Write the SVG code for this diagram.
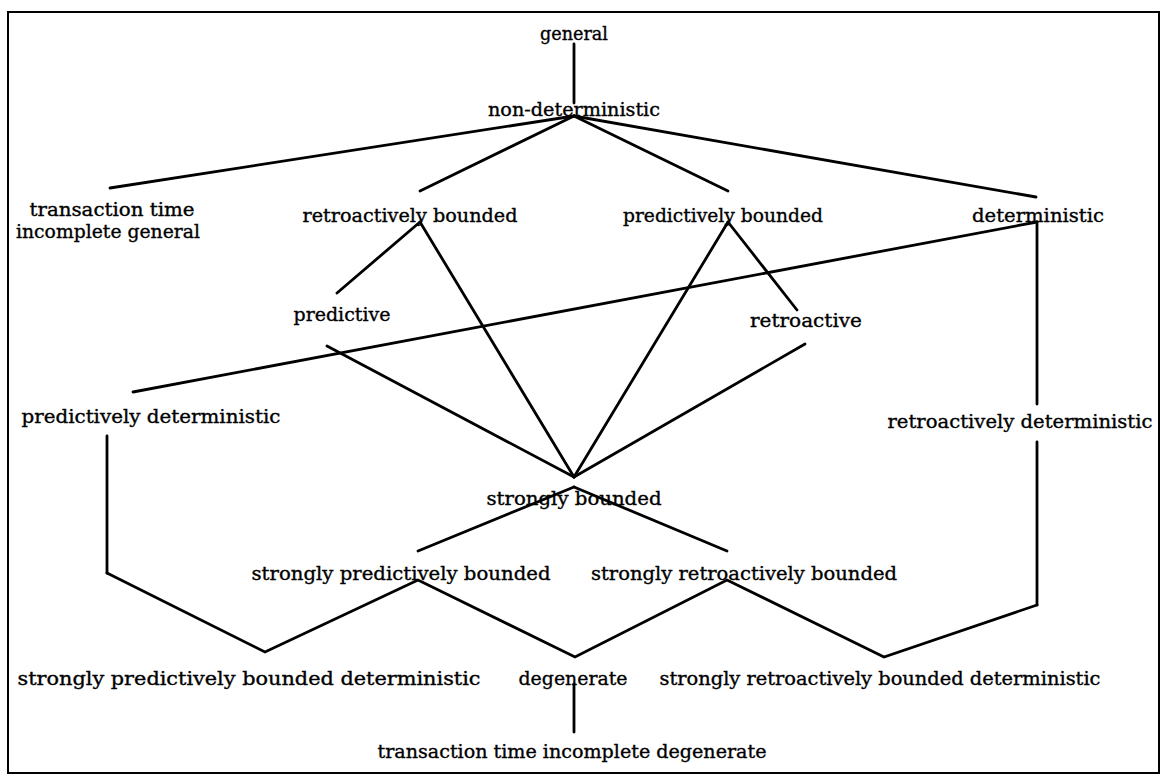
<svg xmlns="http://www.w3.org/2000/svg" width="1168" height="784" viewBox="0 0 1168 784">
<style>
text{font-family:"DejaVu Serif","Liberation Serif",serif;font-size:19px;fill:#000;stroke:#000;stroke-width:0.35;text-anchor:middle}
.e{stroke:#000;stroke-width:2.8;fill:none;stroke-linecap:round}
</style>
<rect x="0" y="0" width="1168" height="784" fill="#fff"/>
<rect x="8" y="12" width="1151" height="761" fill="none" stroke="#000" stroke-width="2"/>
<g id="connectors" class="e">
<line x1="574" y1="44" x2="574" y2="103"/>
<line x1="574" y1="116" x2="110" y2="188"/>
<line x1="574" y1="116" x2="420" y2="191"/>
<line x1="574" y1="116" x2="728" y2="191"/>
<line x1="574" y1="116" x2="1036" y2="197"/>
<line x1="420" y1="222" x2="337" y2="293"/>
<line x1="420" y1="222" x2="574" y2="477"/>
<line x1="728" y1="222" x2="797" y2="310"/>
<line x1="728" y1="222" x2="574" y2="477"/>
<line x1="1037" y1="222" x2="133" y2="392"/>
<line x1="1037" y1="222" x2="1037" y2="404"/>
<line x1="327" y1="346" x2="574" y2="477"/>
<line x1="805" y1="344" x2="574" y2="477"/>
<line x1="107" y1="436" x2="107" y2="573"/>
<line x1="1037" y1="442" x2="1037" y2="605"/>
<line x1="574" y1="487" x2="418" y2="551"/>
<line x1="574" y1="487" x2="727" y2="551"/>
<polyline points="107,573 265,652 418,580 575,657 727,580 884,657 1037,605"/>
<line x1="574" y1="684" x2="574" y2="732"/>
</g>
<g id="n-general"><text x="574" y="40" textLength="68" lengthAdjust="spacingAndGlyphs">general</text></g>
<g id="n-nondet"><text x="574" y="116" textLength="172" lengthAdjust="spacingAndGlyphs">non-deterministic</text></g>
<g id="n-ttig"><text x="112" y="216" textLength="165" lengthAdjust="spacingAndGlyphs">transaction time</text><text x="108" y="238" textLength="184" lengthAdjust="spacingAndGlyphs">incomplete general</text></g>
<g id="n-retrob"><text x="410" y="222" textLength="215" lengthAdjust="spacingAndGlyphs">retroactively bounded</text></g>
<g id="n-predb"><text x="723" y="222" textLength="200" lengthAdjust="spacingAndGlyphs">predictively bounded</text></g>
<g id="n-det"><text x="1038" y="222" textLength="132" lengthAdjust="spacingAndGlyphs">deterministic</text></g>
<g id="n-pred"><text x="342" y="321" textLength="97" lengthAdjust="spacingAndGlyphs">predictive</text></g>
<g id="n-retro"><text x="806" y="327" textLength="112" lengthAdjust="spacingAndGlyphs">retroactive</text></g>
<g id="n-preddet"><text x="151" y="423" textLength="259" lengthAdjust="spacingAndGlyphs">predictively deterministic</text></g>
<g id="n-retrodet"><text x="1020" y="428" textLength="265" lengthAdjust="spacingAndGlyphs">retroactively deterministic</text></g>
<g id="n-sb"><text x="574" y="505" textLength="175" lengthAdjust="spacingAndGlyphs">strongly bounded</text></g>
<g id="n-spb"><text x="401" y="580" textLength="299" lengthAdjust="spacingAndGlyphs">strongly predictively bounded</text></g>
<g id="n-srb"><text x="744" y="580" textLength="306" lengthAdjust="spacingAndGlyphs">strongly retroactively bounded</text></g>
<g id="n-spbd"><text x="249" y="685" textLength="463" lengthAdjust="spacingAndGlyphs">strongly predictively bounded deterministic</text></g>
<g id="n-degen"><text x="573" y="685" textLength="109" lengthAdjust="spacingAndGlyphs">degenerate</text></g>
<g id="n-srbd"><text x="880" y="685" textLength="441" lengthAdjust="spacingAndGlyphs">strongly retroactively bounded deterministic</text></g>
<g id="n-ttid"><text x="572" y="758" textLength="389" lengthAdjust="spacingAndGlyphs">transaction time incomplete degenerate</text></g>
</svg>
